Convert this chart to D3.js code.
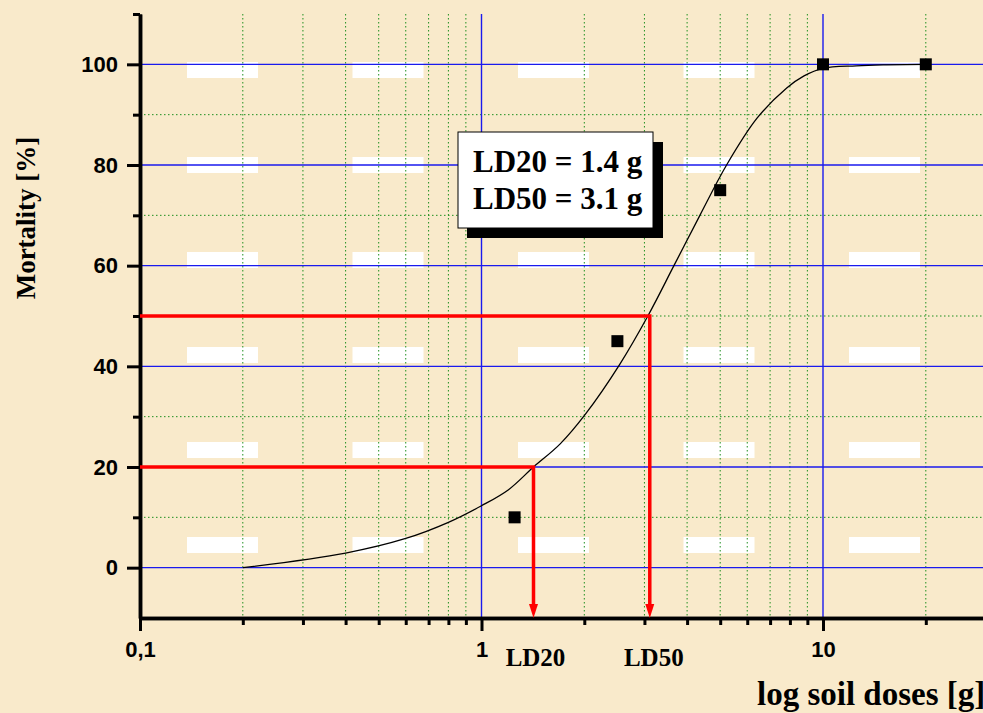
<!DOCTYPE html>
<html lang="en">
<head>
    <meta charset="UTF-8">
    <title>Mortality vs log soil doses</title>
    <style>
        body {
            margin: 0;
            padding: 0;
            background-color: #f9eacb;
        }
        svg {
            display: block;
        }
        .tick text {
            font-family: "Liberation Sans", Arial, sans-serif;
            font-weight: bold;
            font-size: 22px;
            fill: #000;
        }
        .serif {
            font-family: "Liberation Serif", "Times New Roman", serif;
            font-weight: bold;
            fill: #000;
        }
    </style>
</head>
<body>
    <svg id="chart" width="983" height="713"></svg>

    <script src="https://d3js.org/d3.v7.min.js"></script>
    <script>
        // measured points
        const doses = [1.25, 2.5, 5, 10, 20];
        const mortality = [10, 45, 75, 100, 100];

        // fitted curve
        const curveDoses = [0.2, 0.4, 0.6, 0.8, 1.0, 1.2, 1.42, 1.7, 2.01, 2.54, 3.07, 3.66, 4.36, 5.22, 6.41, 7.83, 8.8, 10, 12.5, 15, 20];
        const curveMortality = [0, 2.9, 5.8, 9.0, 12.3, 15.5, 20, 24.6, 30.4, 40.4, 50, 60, 70, 80, 89.3, 95.3, 97.7, 99.2, 99.7, 99.9, 100];

        const ld20 = 1.42, ld50 = 3.11;

        const yMajor = [0, 20, 40, 60, 80, 100];
        const yMinor = [10, 30, 50, 70, 90, 110];
        const xMajor = [0.1, 1, 10];
        const xMinor = [0.2, 0.3, 0.4, 0.5, 0.6, 0.7, 0.8, 0.9, 2, 3, 4, 5, 6, 7, 8, 9, 20, 30];
        const xLabels = { 0.1: '0,1', 1: '1', 10: '10' };

        const svg = d3.select('#chart'),
            width = +svg.attr('width'),
            height = +svg.attr('height');

        const plotLeft = 140, plotTop = 14, plotBottom = 618;

        const x = d3.scaleLog().domain([0.1, 30]).range([plotLeft, plotLeft + 341.5 * Math.log10(300)]);
        const y = d3.scaleLinear().domain([-10, 110]).range([plotBottom, plotTop]);

        // background texture: white dashes
        const bg = svg.append('g');
        for (let j = 0; j < 6; j++) {
            for (let i = 0; i < 5; i++) {
                bg.append('rect')
                    .attr('x', 187 + i * 165.5)
                    .attr('y', 62 + j * 95)
                    .attr('width', 71)
                    .attr('height', 16)
                    .attr('fill', '#fff');
            }
        }

        // grid
        const grid = svg.append('g');
        grid.selectAll('.gy-minor').data(yMinor.filter(v => v < 110)).enter().append('line')
            .attr('x1', plotLeft).attr('x2', width)
            .attr('y1', d => y(d)).attr('y2', d => y(d))
            .attr('stroke', '#1f8f1f').attr('stroke-width', 1).attr('stroke-dasharray', '1.5,2.5');
        grid.selectAll('.gx-minor').data(xMinor).enter().append('line')
            .attr('x1', d => x(d)).attr('x2', d => x(d))
            .attr('y1', plotTop).attr('y2', plotBottom)
            .attr('stroke', '#1f8f1f').attr('stroke-width', 1).attr('stroke-dasharray', '1.5,2.5');
        grid.selectAll('.gy-major').data(yMajor).enter().append('line')
            .attr('x1', plotLeft).attr('x2', width)
            .attr('y1', d => y(d)).attr('y2', d => y(d))
            .attr('stroke', '#1a1aee').attr('stroke-width', 1.4);
        grid.selectAll('.gx-major').data(xMajor.slice(1)).enter().append('line')
            .attr('x1', d => x(d)).attr('x2', d => x(d))
            .attr('y1', plotTop).attr('y2', plotBottom)
            .attr('stroke', '#1a1aee').attr('stroke-width', 1.4);

        // axes
        svg.append('g').attr('transform', `translate(${plotLeft},0)`)
            .call(d3.axisLeft(y).tickValues(yMajor).tickSize(13).tickSizeOuter(0).tickPadding(9));
        svg.append('g').attr('transform', `translate(${plotLeft},0)`)
            .call(d3.axisLeft(y).tickValues(yMinor).tickSize(7).tickSizeOuter(0).tickFormat(''));
        svg.append('g').attr('transform', `translate(0,${plotBottom})`)
            .call(d3.axisBottom(x).tickValues(xMajor).tickSize(13).tickSizeOuter(0).tickPadding(10)
                .tickFormat(d => xLabels[d]));
        svg.append('g').attr('transform', `translate(0,${plotBottom})`)
            .call(d3.axisBottom(x).tickValues(xMinor).tickSize(7).tickSizeOuter(0).tickFormat(''));

        svg.selectAll('.domain').attr('stroke', '#000').attr('stroke-width', 3.5);
        svg.selectAll('.tick line').attr('stroke', '#000').attr('stroke-width', 3);

        // fitted curve
        const line = d3.line()
            .x(d => x(d[0]))
            .y(d => y(d[1]))
            .curve(d3.curveCatmullRom.alpha(0.5));
        svg.append('path')
            .datum(curveDoses.map((d, i) => [d, curveMortality[i]]))
            .attr('d', line)
            .attr('fill', 'none')
            .attr('stroke', '#000')
            .attr('stroke-width', 1.3);

        // LD guide lines
        [[ld20, 20], [ld50, 50]].forEach(([dose, pct]) => {
            svg.append('path')
                .attr('d', `M${x(0.1)},${y(pct)} H${x(dose)} V${plotBottom - 12}`)
                .attr('fill', 'none')
                .attr('stroke', '#ff0000')
                .attr('stroke-width', 3.5);
            svg.append('path')
                .attr('d', `M${x(dose) - 4.5},${plotBottom - 14} L${x(dose) + 4.5},${plotBottom - 14} L${x(dose)},${plotBottom} Z`)
                .attr('fill', '#ff0000');
        });

        // data points
        svg.selectAll('.pt').data(doses).enter().append('rect')
            .attr('x', d => x(d) - 6)
            .attr('y', (d, i) => y(mortality[i]) - 6)
            .attr('width', 12)
            .attr('height', 12)
            .attr('fill', '#000');

        // legend box
        svg.append('rect').attr('x', 467).attr('y', 142).attr('width', 196).attr('height', 96).attr('fill', '#000');
        svg.append('rect').attr('x', 458).attr('y', 132).attr('width', 195).attr('height', 96)
            .attr('fill', '#fff').attr('stroke', '#000').attr('stroke-width', 1);
        svg.append('text').attr('class', 'serif').attr('x', 473).attr('y', 172)
            .attr('font-size', 31).text(`LD20 = ${ld20.toFixed(1)} g`);
        svg.append('text').attr('class', 'serif').attr('x', 473).attr('y', 209)
            .attr('font-size', 31).text(`LD50 = ${ld50.toFixed(1)} g`);

        // LD labels on x axis
        svg.append('text').attr('class', 'serif').attr('x', x(ld20) + 2).attr('y', 666)
            .attr('text-anchor', 'middle').attr('font-size', 25).text('LD20');
        svg.append('text').attr('class', 'serif').attr('x', x(ld50) + 4).attr('y', 666)
            .attr('text-anchor', 'middle').attr('font-size', 25).text('LD50');

        // axis titles
        svg.append('text').attr('class', 'serif').attr('x', 757).attr('y', 705)
            .attr('font-size', 33).text('log soil doses [g]');
        svg.append('text').attr('class', 'serif')
            .attr('transform', 'translate(35,218) rotate(-90)')
            .attr('text-anchor', 'middle').attr('font-size', 27).text('Mortality [%]');
    </script>
</body>
</html>
